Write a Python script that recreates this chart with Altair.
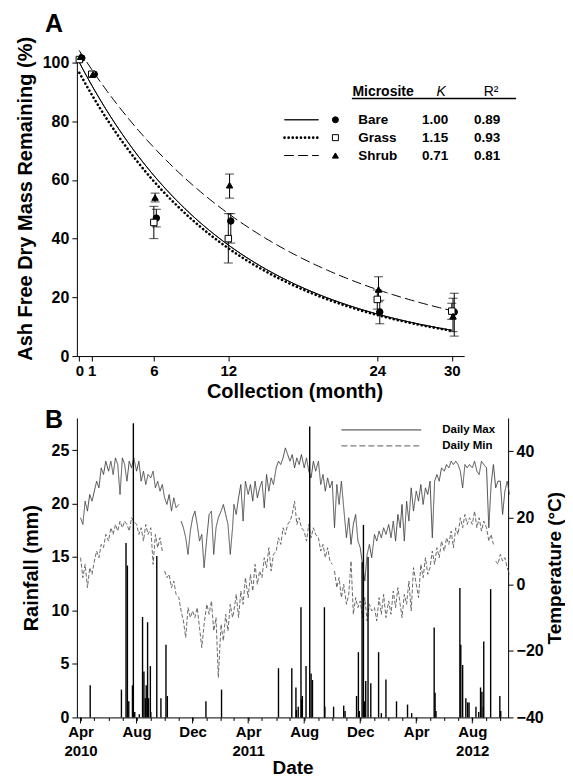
import math
import altair as alt
import pandas as pd

FONT = "Liberation Sans"

# ---------------- Panel A data ----------------
sites = ["Bare", "Grass", "Shrub"]
k_vals = ["1.00", "1.15", "0.71"]
r2_vals = ["0.89", "0.93", "0.81"]
months = [0, 1, 6, 12, 24, 30]

bare_mean = [101.5, 96.0, 47.0, 46.0, 15.0, 15.0]
bare_lo = [101.5, 96.0, 44.0, 38.5, 11.0, 6.8]
bare_hi = [101.5, 96.0, 50.0, 48.5, 19.0, 21.4]

grass_mean = [101.0, 96.0, 45.5, 40.0, 19.3, 15.3]
grass_lo = [101.0, 96.0, 40.0, 31.7, 16.0, 12.5]
grass_hi = [101.0, 96.0, 51.0, 48.5, 22.5, 18.0]

shrub_mean = [102.0, 96.0, 54.0, 58.2, 22.7, 13.6]
shrub_lo = [102.0, 96.0, 52.5, 53.8, 18.5, 8.3]
shrub_hi = [102.0, 96.0, 55.5, 62.0, 27.0, 19.7]

# fitted decay curves  y = a * exp(-b * month)
fit_a = [100.0, 96.5, 104.0]
fit_b = [0.081, 0.0805, 0.0635]

# ---------------- Panel B data ----------------
rain_dates = [
    "2010-04-22", "2010-06-29", "2010-07-09", "2010-07-12", "2010-07-15",
    "2010-07-23", "2010-07-25", "2010-07-28", "2010-08-07", "2010-08-14",
    "2010-08-17", "2010-08-20", "2010-08-22", "2010-08-25", "2010-08-27",
    "2010-08-31", "2010-09-01", "2010-09-14", "2010-09-23", "2010-10-04",
    "2010-10-07", "2010-12-30", "2011-02-02", "2011-06-06", "2011-07-05",
    "2011-07-14", "2011-07-15", "2011-07-19", "2011-07-25", "2011-07-26",
    "2011-07-28", "2011-08-05", "2011-08-13", "2011-08-16", "2011-08-19",
    "2011-09-14", "2011-09-15", "2011-10-04", "2011-10-26", "2011-10-29",
    "2011-11-23", "2011-11-27", "2011-11-29", "2011-12-05", "2011-12-08",
    "2011-12-10", "2011-12-13", "2011-12-18", "2011-12-24", "2012-01-10",
    "2012-01-16", "2012-01-26", "2012-02-18", "2012-03-13", "2012-03-22",
    "2012-05-10", "2012-05-12", "2012-05-14", "2012-07-05", "2012-07-07",
    "2012-07-11", "2012-07-18", "2012-07-22", "2012-07-25", "2012-08-09",
    "2012-08-15", "2012-08-19", "2012-08-22", "2012-08-25", "2012-08-26",
    "2012-09-10", "2012-09-30", "2012-10-02",
]
rain_mm = [
    3.0, 2.6, 16.3, 14.2, 1.5,
    3.0, 27.5, 0.5, 0.3, 9.4,
    4.3, 1.8, 3.0, 8.9, 1.8,
    4.8, 0.5, 15.1, 1.8, 6.8,
    2.0, 1.5, 2.6, 4.6, 4.6,
    2.8, 0.7, 1.0, 10.3, 1.7,
    2.0, 4.8, 27.2, 4.1, 3.5,
    10.3, 1.0, 1.0, 1.1, 0.6,
    2.0, 6.1, 0.6, 14.5, 18.0,
    1.5, 3.4, 15.0, 3.2, 6.1,
    0.4, 3.55, 1.5, 1.2, 0.4,
    8.4, 2.3, 0.6, 12.1, 6.8,
    4.9, 1.8, 1.4, 1.4, 1.0,
    0.5, 2.8, 2.4, 1.0, 7.1,
    12.0, 2.0, 0.6,
]

# daily temperature read roughly every 5 days (days 1, 6, 11, 16, 21, 26 of each month)
sample_days = [1, 6, 11, 16, 21, 26]
first_month = (2010, 4)
tmax = [
    [20, 18, 25, 22, 27, 25], [28, 31, 29, 35, 33, 37], [34, 37, 33, 38, 36, 27],
    [38, 36, 31, 37, 35, 38], [34, 37, 31, 34, 30, 33], [32, 34, 29, 31, 28, 30],
    [26, 24, 27, 22, 26, 23], [24, 19, 17, 14, 9, 16], [20, 22, 18, 13, 15, 5],
    [14, 21, 22, 9, 17, 20], [22, 24, 21, 18, 9, 17], [24, 21, 26, 30, 19, 31],
    [27, 30, 25, 31, 26, 29], [31, 23, 33, 28, 32, 30], [35, 37, 36, 38, 41, 39],
    [37, 39, 35, 38, 36, 39], [35, 38, 34, 32, 37, 34], [37, 30, 33, 28, 32, 29],
    [31, 17, 30, 24, 31, 23], [14, 20, 12, 18, 21, 13], [11, 6, 1, 9, 12, 8],
    [15, 13, 16, 14, 17, 15], [18, 14, 19, 13, 21, 17], [24, 13, 25, 19, 29, 22],
    [28, 25, 30, 24, 29, 27], [31, 14, 31, 33, 31, 35], [34, 36, 35, 37, 36, 37],
    [36, 34, 29, 36, 35, 36], [35, 37, 34, 33, 37, 36], [35, 17, 30, 36, 29, 31],
    [31, 21, 28, 31, 27],
]
tmin = [
    [8, 2, 6, -1, 5, 3], [7, 10, 8, 12, 11, 15], [13, 17, 15, 18, 16, 19],
    [17, 19, 18, 16, 20, 19], [18, 15, 17, 13, 18, 15], [17, 6, 15, 11, 14, 10],
    [4, 2, 3, -1, 1, -3], [-4, -8, -11, -16, -7, -10], [-8, -10, -7, -13, -19, -12],
    [-6, -9, -5, -14, -10, -28], [-12, -17, -9, -14, -6, -10], [-8, -3, -10, -2, -6, 2],
    [-4, 3, -2, 6, 0, 4], [2, 8, 5, 11, 4, 9], [10, 14, 12, 17, 15, 18],
    [19, 21, 25, 18, 20, 17], [16, 13, 18, 14, 17, 15], [14, 10, 12, 8, 11, 7],
    [6, 4, -1, 2, -4, 0], [-6, -3, 7, -9, -4, -7], [-5, -10, -4, -11, -6, -8],
    [-7, -11, -4, -9, -3, -10], [-5, -9, -2, -7, -1, -6], [-10, -3, -6, 1, -8, 5],
    [0, -4, 6, 2, 8, 3], [5, 10, 6, 11, 8, 13], [10, 14, 12, 16, 11, 17],
    [15, 20, 17, 21, 18, 20], [18, 22, 17, 20, 16, 19], [17, 13, 15, 12, 7, 6],
    [9, 7, 8, 5, 3],
]
# gaps in the logger record (line breaks after these dates)
tmax_breaks = ["2010-11-01"]
tmin_breaks = ["2010-09-26", "2011-10-01", "2012-09-16"]

# ---------------- build tables ----------------
offsets = {"Bare": 0.2, "Grass": 0.0, "Shrub": 0.1}
pt_rows = []
for s, mean, lo, hi in [("Bare", bare_mean, bare_lo, bare_hi),
                        ("Grass", grass_mean, grass_lo, grass_hi),
                        ("Shrub", shrub_mean, shrub_lo, shrub_hi)]:
    for m, v, l, h in zip(months, mean, lo, hi):
        pt_rows.append(dict(site=s, month=m + offsets[s], val=v, lo=l, hi=h))
pts = pd.DataFrame(pt_rows)
errs = pts[(pts["hi"] - pts["lo"]) > 0.5]

t_grid = [i * 0.25 for i in range(121)]
curves = pd.DataFrame([dict(site=s, month=t, val=a * math.exp(-b * t))
                       for s, a, b in zip(sites, fit_a, fit_b) for t in t_grid])


def temp_frame(table, name, breaks):
    rows = []
    y, m = first_month
    bks = [pd.Timestamp(b) for b in breaks]
    for vals in table:
        for d, v in zip(sample_days, vals):
            ts = pd.Timestamp(year=y, month=m, day=d)
            seg = sum(1 for b in bks if ts > b)
            rows.append(dict(date=ts, temp=v, series=name, seg=f"{name}{seg}"))
        m += 1
        if m > 12:
            m = 1
            y += 1
    return rows


temps = pd.DataFrame(temp_frame(tmax, "Daily Max", tmax_breaks) +
                     temp_frame(tmin, "Daily Min", tmin_breaks))
rain = pd.DataFrame({"date": pd.to_datetime(rain_dates), "mm": rain_mm})
one = pd.DataFrame({"a": [0]})
leg = pd.DataFrame({"site": sites, "k": k_vals, "r2": r2_vals, "idx": [0, 1, 2]})

# ---------------- Panel A ----------------
axA_x = alt.Axis(values=months, title="Collection (month)", labelFontSize=15,
                 titleFontSize=20, tickSize=5, labelPadding=2, titlePadding=4,
                 titleX=218, labelFlush=False, grid=False)
axA_y = alt.Axis(values=[0, 20, 40, 60, 80, 100], title="Ash Free Dry Mass Remaining (%)",
                 labelFontSize=16, titleFontSize=20, tickSize=5, labelPadding=3,
                 titlePadding=7, titleY=142, grid=False)
sxA = alt.Scale(domain=[-0.2, 31.0], nice=False, zero=False)
syA = alt.Scale(domain=[0, 102], nice=False)


def xa(f):
    return alt.X(f"{f}:Q", scale=sxA, axis=axA_x)


def ya(f):
    return alt.Y(f"{f}:Q", scale=syA, axis=axA_y)


dash = {"Bare": [1, 0], "Grass": [0.1, 4.0], "Shrub": [9, 5]}
lw = {"Bare": 1.0, "Grass": 2.6, "Shrub": 1.0}

layersA = []
for s in sites:
    layersA.append(
        alt.Chart(curves).transform_filter(alt.datum.site == s)
        .mark_line(color="black", strokeWidth=lw[s], strokeDash=dash[s], strokeCap="round")
        .encode(x=xa("month"), y=ya("val"))
    )
layersA.append(alt.Chart(errs).mark_rule(color="black", strokeWidth=1)
               .encode(x=xa("month"), y=ya("lo"), y2="hi:Q"))
for f in ["lo", "hi"]:
    layersA.append(alt.Chart(errs).mark_tick(color="black", orient="horizontal", size=9, thickness=1)
                   .encode(x=xa("month"), y=ya(f)))

shape_scale = alt.Scale(domain=sites, range=["circle", "square", "triangle-up"])
fill_scale = alt.Scale(domain=sites, range=["black", "white", "black"])
layersA.append(alt.Chart(pts).mark_point(filled=True, size=42, stroke="black", strokeWidth=1, opacity=1)
               .encode(x=xa("month"), y=ya("val"),
                       shape=alt.Shape("site:N", scale=shape_scale, legend=None),
                       fill=alt.Fill("site:N", scale=fill_scale, legend=None)))

# legend table
txt = dict(font=FONT, color="black")
layersA.append(alt.Chart(one).mark_text(text="Microsite", fontSize=14, fontWeight="bold", align="left",
                                        baseline="alphabetic", **txt)
               .encode(x=alt.value(276), y=alt.value(39)))
layersA.append(alt.Chart(one).mark_text(text="K", fontSize=14, fontStyle="italic", align="center",
                                        baseline="alphabetic", **txt)
               .encode(x=alt.value(365), y=alt.value(39)))
layersA.append(alt.Chart(one).mark_text(text="R²", fontSize=14, align="center",
                                        baseline="alphabetic", **txt)
               .encode(x=alt.value(415), y=alt.value(39)))
layersA.append(alt.Chart(one).mark_rule(color="black", strokeWidth=1.5)
               .encode(x=alt.value(275.5), x2=alt.value(440), y=alt.value(42)))
row_y = "63.3 + 17.9 * datum.idx"
for field, xpos, al in [("site", 282, "left"), ("k", 359, "center"), ("r2", 411, "center")]:
    layersA.append(alt.Chart(leg).transform_calculate(py=row_y)
                   .mark_text(fontSize=13.5, fontWeight="bold", align=al, baseline="middle", **txt)
                   .encode(x=alt.value(xpos), y=alt.Y("py:Q", scale=None), text=f"{field}:N"))
for i, s in enumerate(sites):
    yy = 63.3 + 17.9 * i
    layersA.append(alt.Chart(one).mark_rule(color="black", strokeWidth=lw[s], strokeDash=dash[s],
                                            strokeCap="round")
                   .encode(x=alt.value(208), x2=alt.value(242), y=alt.value(yy)))
layersA.append(alt.Chart(leg).transform_calculate(py=row_y)
               .mark_point(filled=True, size=36, stroke="black", strokeWidth=1, opacity=1)
               .encode(x=alt.value(259), y=alt.Y("py:Q", scale=None),
                       shape=alt.Shape("site:N", scale=shape_scale, legend=None),
                       fill=alt.Fill("site:N", scale=fill_scale, legend=None)))
layersA.append(alt.Chart(one).mark_text(text="A", fontSize=25, fontWeight="bold", align="left",
                                        baseline="alphabetic", **txt)
               .encode(x=alt.value(-32), y=alt.value(-25)))

panelA = alt.layer(*layersA).properties(width=388, height=300)

# ---------------- Panel B ----------------
month_ticks = []
major_ticks = []
yy_, mm_ = 2010, 4
while (yy_, mm_) <= (2012, 10):
    month_ticks.append(alt.DateTime(year=yy_, month=mm_, date=1))
    if mm_ in (4, 8, 12):
        major_ticks.append(pd.Timestamp(year=yy_, month=mm_, day=1))
    mm_ += 1
    if mm_ > 12:
        mm_ = 1
        yy_ += 1
majors = pd.DataFrame({"date": major_ticks})

label_expr = ("month(datum.value)==3 ? (year(datum.value)==2012 ? 'Apr' : ['Apr', '' + year(datum.value)]) : "
              "month(datum.value)==7 ? (year(datum.value)==2012 ? ['Aug', '2012'] : 'Aug') : "
              "month(datum.value)==11 ? 'Dec' : ''")
axB_x = alt.Axis(values=month_ticks, labelExpr=label_expr, title="Date", tickSize=3,
                 labelFontSize=15, labelPadding=4, titleFontSize=19, titlePadding=0,
                 labelOverlap=False, labelFlush=False, labelLineHeight=19, grid=False)
sxB = alt.Scale(domain=[alt.DateTime(year=2010, month=3, date=24),
                        alt.DateTime(year=2012, month=10, date=18)])
axB_r = alt.Axis(values=[0, 5, 10, 15, 20, 25], title="Rainfall (mm)", labelFontSize=16,
                 titleFontSize=20, tickSize=5, labelPadding=3, titlePadding=10, grid=False)
axB_t = alt.Axis(orient="right", values=[-40, -20, 0, 20, 40], title="Temperature (°C)",
                 labelFontSize=16, titleFontSize=19, tickSize=5, labelPadding=3,
                 titlePadding=2, titleAngle=270, titleBaseline="top", grid=False)

temp_layer = alt.Chart(temps).mark_line(strokeWidth=0.9).encode(
    x=alt.X("date:T", scale=sxB, axis=axB_x),
    y=alt.Y("temp:Q", scale=alt.Scale(domain=[-40, 50], nice=False), axis=axB_t),
    detail="seg:N",
    color=alt.Color("series:N", scale=alt.Scale(domain=["Daily Max", "Daily Min"],
                                                range=["#3a3a3a", "#5a5a5a"]), legend=None),
    strokeDash=alt.StrokeDash("series:N", scale=alt.Scale(domain=["Daily Max", "Daily Min"],
                                                          range=[[1, 0], [4, 2]]), legend=None),
)
rain_layer = alt.Chart(rain).mark_rule(color="black", strokeWidth=1.4).encode(
    x=alt.X("date:T", scale=sxB, axis=axB_x),
    y=alt.Y("mm:Q", scale=alt.Scale(domain=[0, 28], nice=False), axis=axB_r),
    y2=alt.datum(0),
)
major_layer = alt.Chart(majors).mark_rule(color="black", strokeWidth=1).encode(
    x=alt.X("date:T", scale=sxB, axis=axB_x),
    y=alt.value(300), y2=alt.value(306),
)
legB = [
    alt.Chart(one).mark_rule(color="#3a3a3a", strokeWidth=1)
    .encode(x=alt.value(265), x2=alt.value(345), y=alt.value(12)),
    alt.Chart(one).mark_rule(color="#5a5a5a", strokeWidth=1, strokeDash=[6, 3])
    .encode(x=alt.value(265), x2=alt.value(345), y=alt.value(28)),
    alt.Chart(one).mark_text(text="Daily Max", fontSize=11.5, fontWeight="bold", align="left",
                             baseline="middle", **txt)
    .encode(x=alt.value(366), y=alt.value(12)),
    alt.Chart(one).mark_text(text="Daily Min", fontSize=11.5, fontWeight="bold", align="left",
                             baseline="middle", **txt)
    .encode(x=alt.value(366), y=alt.value(28)),
    alt.Chart(one).mark_text(text="B", fontSize=25, fontWeight="bold", align="left",
                             baseline="alphabetic", **txt)
    .encode(x=alt.value(-32), y=alt.value(10)),
]
panelB = alt.layer(temp_layer, rain_layer, major_layer, *legB).resolve_scale(y="independent") \
    .properties(width=432, height=300)

chart = (
    alt.vconcat(panelA, panelB, spacing=62, bounds="flush")
    .properties(padding={"left": 7, "top": 3, "right": 0, "bottom": 0})
    .configure_view(stroke=None)
    .configure_axis(labelFont=FONT, titleFont=FONT, labelFontWeight="bold", titleFontWeight="bold",
                    labelColor="black", titleColor="black", domainColor="black", tickColor="black",
                    domainWidth=1, tickWidth=1)
)

chart.save("out.html", embed_options={"renderer": "svg", "actions": False})
